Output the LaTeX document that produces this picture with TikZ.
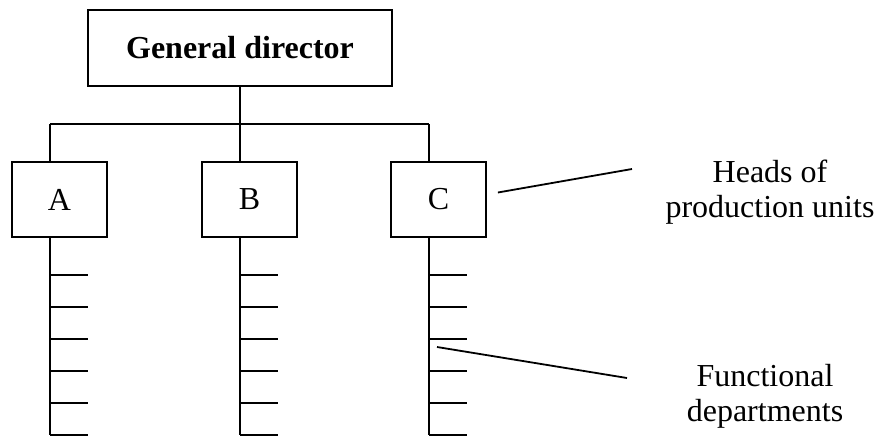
\documentclass[tikz,border=0pt]{standalone}
\usepackage{fontspec}
\setmainfont{Liberation Serif}
\usetikzlibrary{calc}
\begin{document}
\begin{tikzpicture}[x=1pt, y=-1pt,
        mybox/.style={draw, line width=1.8pt, minimum width=95pt,
            minimum height=75pt, inner sep=0pt,
            font=\fontsize{32}{35}\selectfont},
        myline/.style={line width=1.8pt},
        mylabel/.style={align=center, font=\fontsize{32}{35}\selectfont}
    ]
        \useasboundingbox (0,0) rectangle (877,439);

        \node [mybox, minimum width=304pt, minimum height=76pt,
            font=\bfseries\fontsize{32}{35}\selectfont] (gd) at (240,48)
            {General director};

        \node [mybox] (A) at (59.5,199.5) {A};
        \node [mybox] (B) at (249.5,199.5) {B};
        \node [mybox] (C) at (438.5,199.5) {C};

        % trunks of the units with their departments
        \foreach \n/\x in {A/50,B/240,C/429} {
            \coordinate (top\n) at (\x,124);
            \coordinate (end\n) at (\x,435);
            \draw [myline] (top\n) -- (top\n |- \n.north);
            \draw [myline] (\n.south -| top\n) -- (end\n);
            \foreach \k in {0,...,5}
                \draw [myline] (\x,275+32*\k) -- ++(38,0);
        }
        \draw [myline] (gd.south) -- (gd.south |- topB);
        \draw [myline] (topA) -- (topC);

        \node [mylabel] (heads) at (770,192) {Heads of\\production units};
        \node [mylabel] (func) at (765,396) {Functional\\departments};

        \coordinate (headsin) at (632,169);
        \coordinate (funcin) at (627,378);
        \draw [myline] ($(C.east)+(11,-7)$) -- (headsin);
        \draw [myline] (437,347) -- (funcin);
    \end{tikzpicture}
\end{document}
